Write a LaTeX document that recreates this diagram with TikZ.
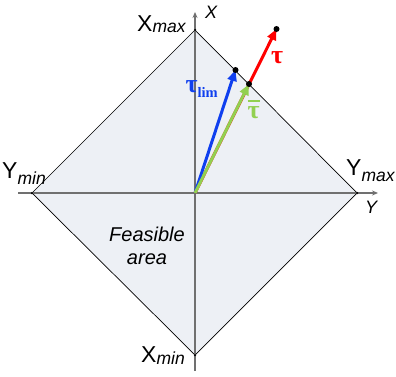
\documentclass[tikz,border=0pt]{standalone}
\usepackage{fontspec}
\setmainfont{Liberation Sans}
\newfontfamily\taufont{Liberation Serif}
\usetikzlibrary{arrows.meta, positioning}

\definecolor{areafill}{HTML}{EDF0F5}
\definecolor{axisgray}{HTML}{707070}
\definecolor{limblue}{HTML}{0F3FEF}
\definecolor{taured}{HTML}{FF0000}
\definecolor{bargreen}{HTML}{92D050}

\newcommand{\bnd}[3][2pt]{#2\raisebox{-#1}{\fontsize{17.5}{17.5}\selectfont\itshape #3}}
\newcommand{\withbar}[1]{\setbox0\hbox{#1}\vbox{\hrule height 1.8pt width \wd0 \kern 4pt \box0}}

\begin{document}
\begin{tikzpicture}[x=1pt, y=-1pt,
  axis/.style={draw=axisgray, line width=1.5pt, -{Stealth[length=6pt,width=5pt]}},
  vec/.style={line width=3pt, -{Triangle[length=11pt,width=9pt]}},
  bound/.style={anchor=base west, inner sep=0pt, font=\fontsize{23}{23}\selectfont},
  axlabel/.style={anchor=base west, inner sep=0pt, font=\fontsize{18}{18}\selectfont\itshape},
  taulabel/.style={anchor=base west, inner sep=0pt, font=\taufont\bfseries\fontsize{26}{26}\selectfont},
  dot/.style={circle, fill=black, inner sep=0pt, minimum size=6pt},
  corner/.style={circle, fill=black, inner sep=0pt, minimum size=2.5pt}]
\useasboundingbox (0,0) rectangle (396,377);

% Feasible area
\coordinate (O) at (195,193);
\coordinate (top) at (195,30);
\coordinate (right) at (357,193);
\coordinate (bottom) at (195,355);
\coordinate (left) at (32,193);
\fill[areafill] (top) -- (right) -- (bottom) -- (left) -- cycle;
\draw[black, line width=0.7pt] (top) -- (right) -- (bottom) -- (left) -- cycle;

% Axes
\coordinate (ystart) at (18,193);
\coordinate (yend) at (378,193);
\coordinate (xstart) at (195,371);
\coordinate (xend) at (195,12);
\draw[axis] (ystart) -- (yend);
\draw[axis] (xstart) -- (xend);
\foreach \c in {top, right, bottom, left} {
  \node[corner] at (\c) {};
}

% Vectors
\coordinate (tau) at (276.5,29);
\coordinate (taulim) at (235.5,70);
\coordinate (taubar) at (249,84);
\draw[vec, taured] (O) -- (tau);
\draw[vec, limblue] (O) -- (taulim);
\draw[vec, bargreen] (O) -- (taubar);
\foreach \p in {tau, taulim, taubar} {
  \node[dot] at (\p) {};
}

% Labels
\node[bound] (xmax) at (137,32) {\bnd[1pt]{X}{max}};
\node[bound] (xmin) at (141,362) {\bnd[2pt]{X}{min}};
\node[bound] (ymin) at (2,178) {\bnd[6pt]{Y}{min}};
\node[bound] (ymax) at (346,175.5) {\bnd[6pt]{Y}{max}};
\node[axlabel] (xlab) at (205,19) {X};
\node[axlabel] (ylab) at (365,213) {Y};
\node[font=\fontsize{20}{23}\selectfont\itshape, align=center] (area) at (147,246) {Feasible\\area};
\node[taulabel, text=taured] (taulab) at (271,64) {τ};
\node[taulabel, text=limblue] (limlab) at (185.5,93)
  {τ\raisebox{-4.5pt}{\fontsize{14.5}{14.5}\selectfont lim}};
\node[taulabel, text=bargreen] (barlab) at (247.5,118) {\withbar{τ}};
\end{tikzpicture}
\end{document}
